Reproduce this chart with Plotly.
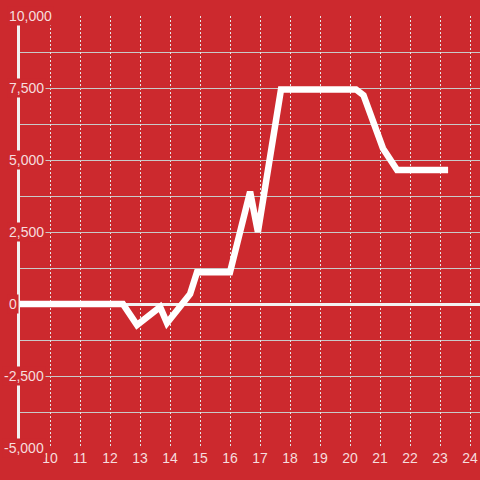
import plotly.graph_objects as go

# Data
hours = [9, 12.43, 12.9, 13.67, 13.9, 14.67, 14.9, 16.0, 16.67, 16.93, 17.7, 20.2, 20.45, 21.1, 21.57, 23.27]
values = [0, 0, -730, -100, -660, 350, 1100, 1100, 3900, 2500, 7450, 7450, 7250, 5400, 4650, 4650]

x_ticks = list(range(10, 25))
y_tick_vals = [10000, 7500, 5000, 2500, 0, -2500, -5000]
y_tick_text = ["10,000", "7,500", "5,000", "2,500", "0", "-2,500", "-5,000"]

BG = "#CC292E"
TXT = "rgba(255,255,255,0.85)"
GRID = "#C9C9C9"

fig = go.Figure()
fig.add_trace(go.Scatter(
    x=hours, y=values, mode="lines",
    line=dict(color="#FFFFFF", width=6.5),
    hoverinfo="skip", showlegend=False,
))

# y tick labels drawn as annotations with a background that masks grid/axis lines
for v, t in zip(y_tick_vals, y_tick_text):
    fig.add_annotation(
        x=0, xref="paper", y=v, yref="y", text=t, showarrow=False,
        xanchor="left", yanchor="middle",
        xshift=-18 if t.startswith("-") else -13,
        font=dict(family="Liberation Sans, Arial, sans-serif", size=14, color=TXT),
        bgcolor=BG, borderpad=1,
    )

fig.update_layout(
    template="none",
    width=480, height=480,
    margin=dict(l=20, r=0, t=16, b=32, autoexpand=False),
    paper_bgcolor=BG, plot_bgcolor=BG,
    font=dict(family="Liberation Sans, Arial, sans-serif", size=14, color=TXT),
    showlegend=False,
)
fig.update_xaxes(
    range=[9, 24.3333], tickvals=x_ticks, ticktext=[str(v) for v in x_ticks],
    showgrid=True, gridcolor="#E6E6E6", gridwidth=1, griddash="2px,2px",
    showline=False, zeroline=False, ticks="", ticklen=0, automargin=False,
    tickfont=dict(size=14, color=TXT),
)
fig.update_yaxes(
    range=[-5000, 10000], tickvals=y_tick_vals, showticklabels=False,
    showgrid=True, gridcolor=GRID, gridwidth=1,
    minor=dict(dtick=1250, tick0=-5000, showgrid=True, gridcolor=GRID, gridwidth=1),
    zeroline=True, zerolinecolor="#F2F2F2", zerolinewidth=3,
    showline=True, linecolor="#F2F2F2", linewidth=3, automargin=False,
    ticks="",
)

fig.write_html(
    "out.html",
    config={"displayModeBar": False},
    post_script="document.body.style.margin='0';document.body.style.overflow='hidden';",
)
